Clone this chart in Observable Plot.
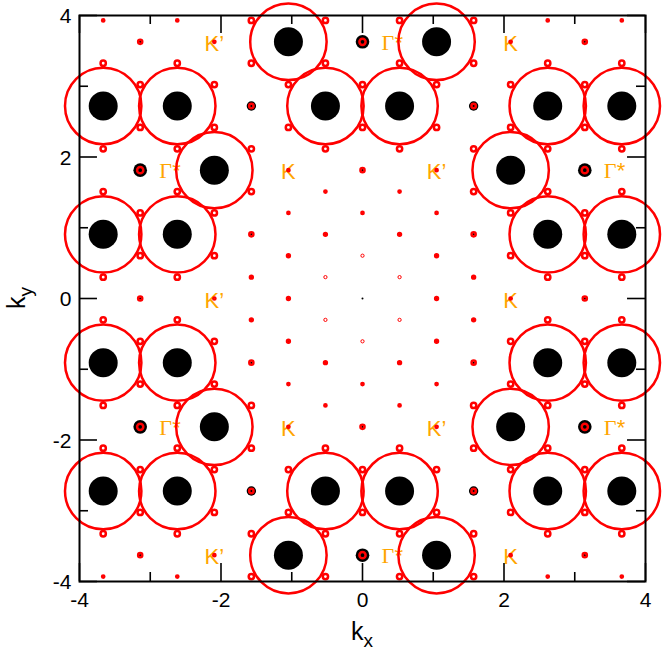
<!DOCTYPE html>
<html><head><meta charset="utf-8">
<script src="https://cdn.jsdelivr.net/npm/d3@7"></script>
<script src="https://cdn.jsdelivr.net/npm/@observablehq/plot@0.6"></script>
<style>body{margin:0;background:#fff} svg{display:block}</style>
</head><body><div id="chart"></div>
<script>
// Reciprocal-lattice columns (kx) and rows (ky) of the peak grid
const kxValues = [-3.665,-3.142,-2.618,-2.094,-1.571,-1.047,-0.524,0,0.524,1.047,1.571,2.094,2.618,3.142,3.665];
const kyValues = [3.930,3.628,3.325,3.023,2.721,2.418,2.116,1.814,1.512,1.209,0.907,0.605,0.302,0,
  -0.302,-0.605,-0.907,-1.209,-1.512,-1.814,-2.116,-2.418,-2.721,-3.023,-3.325,-3.628,-3.930];
// Peak class at each (ky row, kx column); "." = no peak
const peakMap = [
"e.e.o.o.o.o.e.e",
".M.e.O.G.O.e.M.",
"o.o.o.o.o.o.o.o",
".o.o.o.o.o.o.o.",
"O.O.D.O.O.D.O.O",
".o.o.o.o.o.o.o.",
"o.o.o.o.o.o.o.o",
".G.O.e.M.e.O.G.",
"o.o.o.e.e.o.o.o",
".o.o.e.e.e.o.o.",
"O.O.M.m.m.M.O.O",
".o.o.m.p.m.o.o.",
"o.o.m.p.p.m.o.o",
".M.e.m.c.m.e.M.",
"o.o.m.p.p.m.o.o",
".o.o.m.p.m.o.o.",
"O.O.M.m.m.M.O.O",
".o.o.e.e.e.o.o.",
"o.o.o.e.e.o.o.o",
".G.O.e.M.e.O.G.",
"o.o.o.o.o.o.o.o",
".o.o.o.o.o.o.o.",
"O.O.D.O.O.D.O.O",
".o.o.o.o.o.o.o.",
"o.o.o.o.o.o.o.o",
".M.e.O.G.O.e.M.",
"e.e.o.o.o.o.e.e"
];
// Peak classes and their intensities (red ring set, black disk set)
const peakClasses   = ["O",   "G",    "D",    "o",    "M",    "m",    "e",     "p",    "c"];
const ringIntensity = [1,     0.0066, 0.0033, 0.0048, 0.0029, 0.0014, 0.00085, 0.0018, 0];
const coreIntensity = [0.144, 0.0317, 0.0151, 0,      0.001,  0.0004, 0,       0,      0.0007];

// High-symmetry point labels
const labelText = ["K’","Γ","K","Γ","K","K’","Γ","K’","K","Γ","K","K’","Γ","K’","Γ","K"];
const labelKx = [-2.094,0,2.094,-3.142,-1.047,1.047,3.142,-2.094,2.094,-3.142,-1.047,1.047,3.142,-2.094,0,2.094];
const labelKy = [3.628,3.628,3.628,1.814,1.814,1.814,1.814,0,0,-1.814,-1.814,-1.814,-1.814,-3.628,-3.628,-3.628];

const majorTicks = [-4,-2,0,2,4];
const minorTicks = [-3,-1,1,3];

const peaks = [];
peakMap.forEach((row, i) => {
  for (let j = 0; j < row.length; j++) {
    const c = row[j];
    if (c === ".") continue;
    const ci = peakClasses.indexOf(c);
    peaks.push({kx: kxValues[j], ky: kyValues[i], cls: c, ring: ringIntensity[ci], core: coreIntensity[ci]});
  }
});
const labels = labelText.map((t, i) => ({text: t, kx: labelKx[i], ky: labelKy[i]}));
const kLabels = labels.filter(d => d.text !== "Γ");
const gLabels = labels.filter(d => d.text === "Γ");

// inward tick lengths, in axis units (about 18 px and 9 px)
const majorLen = 0.254, minorLen = 0.127;
function tickMarks(vals, len) {
  const o = {stroke: "black", strokeWidth: 1.6};
  return [
    Plot.ruleX(vals, {x: d => d, y1: -4, y2: -4 + len, ...o}),
    Plot.ruleX(vals, {x: d => d, y1: 4, y2: 4 - len, ...o}),
    Plot.ruleY(vals, {y: d => d, x1: -4, x2: -4 + len, ...o}),
    Plot.ruleY(vals, {y: d => d, x1: 4, x2: 4 - len, ...o})
  ];
}

const orange = "#ffa500";
const plot = Plot.plot({
  width: 664, height: 654,
  marginLeft: 79, marginRight: 19, marginTop: 15, marginBottom: 73,
  x: {domain: [-4, 4], label: null},
  y: {domain: [-4, 4], label: null},
  r: {type: "sqrt", domain: [0, 1], range: [0, 38.2]},
  style: {fontFamily: "'Liberation Sans', Arial, sans-serif", background: "white", color: "black"},
  marks: [
    Plot.text(kLabels, {x: "kx", y: "ky", text: "text", fill: orange, fontSize: 22, dy: 2, textAnchor: "middle"}),
    Plot.text(gLabels, {x: "kx", y: "ky", text: "text", fill: orange, fontSize: 22, dx: 19, dy: 1, textAnchor: "start", fontFamily: "'Liberation Serif', serif"}),
    Plot.text(gLabels, {x: "kx", y: "ky", text: () => "*", fill: orange, fontSize: 22, dx: 32, dy: 1, textAnchor: "start"}),
    Plot.dot(peaks, {x: "kx", y: "ky", r: "core", fill: "black", stroke: "none"}),
    Plot.dot(peaks.filter(d => d.cls !== "p"), {x: "kx", y: "ky", r: "ring", stroke: "#ff0000", strokeWidth: 2.5, fill: "none"}),
    Plot.dot(peaks.filter(d => d.cls === "p"), {x: "kx", y: "ky", r: "ring", stroke: "#ff0000", strokeWidth: 1, fill: "none"}),
    ...tickMarks(majorTicks, majorLen),
    ...tickMarks(minorTicks, minorLen),
    Plot.frame({stroke: "black", strokeWidth: 2}),
    Plot.axisX(majorTicks, {anchor: "bottom", tickSize: 0, tickPadding: 11, fontSize: 21, tickFormat: d => String(d), label: null}),
    Plot.axisY(majorTicks, {anchor: "left", tickSize: 0, tickPadding: 8, fontSize: 21, tickFormat: d => String(d), label: null, dy: 1})
  ]
});
document.getElementById("chart").appendChild(plot);

const xs = plot.scale("x").range, ys = plot.scale("y").range;
const svg = d3.select(plot);
// Axis titles with subscripts
const tx = svg.append("text").attr("x", (xs[0] + xs[1]) / 2).attr("y", 640)
  .attr("text-anchor", "middle").attr("font-size", 25).attr("fill", "black");
tx.append("tspan").text("k");
tx.append("tspan").attr("font-size", 19).attr("dy", 7).text("x");
const ty = svg.append("text").attr("transform", `translate(25,${(ys[0] + ys[1]) / 2}) rotate(-90)`)
  .attr("text-anchor", "middle").attr("font-size", 25).attr("fill", "black");
ty.append("tspan").text("k");
ty.append("tspan").attr("font-size", 19).attr("dy", 7).text("y");
</script></body></html>
